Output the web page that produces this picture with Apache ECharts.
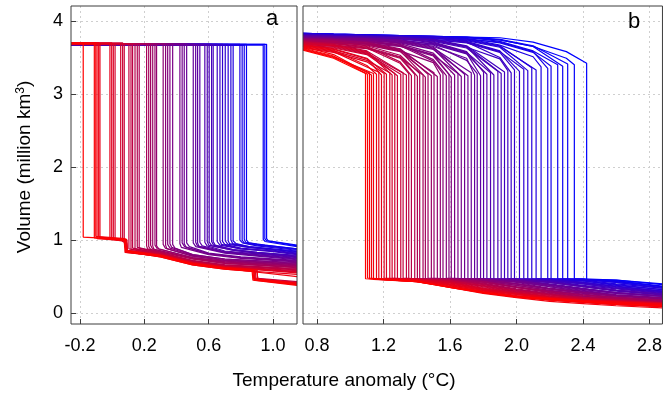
<!DOCTYPE html>
<html><head><meta charset="utf-8">
<script src="https://cdn.jsdelivr.net/npm/echarts@6/dist/echarts.min.js"></script>
<style>html,body{margin:0;padding:0;background:#fff}#c{width:665px;height:394px}</style>
</head><body><div id="c"></div>
<script>
// ---------------- data ----------------
const X_RANGE_A = [-0.256, 1.149];
const X_RANGE_B = [0.716, 2.878];
const Y_RANGE = [-0.15, 4.205];
const X_TICKS_A = [-0.2, 0.2, 0.6, 1.0];
const X_TICKS_B = [0.8, 1.2, 1.6, 2.0, 2.4, 2.8];
const Y_TICKS = [0, 1, 2, 3, 4];

// panel a: tipping temperature of each run (red -> blue)
const THR_A = [-0.18,-0.111,-0.102,-0.094,-0.084,-0.076,-0.014,-0.003,0.007,0.018,
0.053,0.065,0.075,0.104,0.117,0.127,0.142,0.156,0.168,0.214,
0.227,0.239,0.252,0.266,0.276,0.317,0.332,0.345,0.359,0.376,
0.421,0.435,0.448,0.463,0.504,0.519,0.531,0.545,0.576,0.591,
0.603,0.618,0.628,0.653,0.670,0.686,0.703,0.721,0.738,0.752,
0.794,0.808,0.821,0.835,0.939,0.949,0.960];
// panel a: volume before collapse
const UP_A = [3.70,3.69,3.70,3.69,3.70,3.69,3.69,3.70,3.69,3.69,
3.69,3.70,3.69,3.69,3.68,3.69,3.69,3.68,3.69,3.69,
3.68,3.69,3.68,3.69,3.68,3.68,3.69,3.68,3.68,3.69,
3.68,3.68,3.68,3.69,3.68,3.68,3.67,3.68,3.68,3.67,
3.68,3.68,3.67,3.68,3.67,3.68,3.67,3.68,3.67,3.67,
3.68,3.67,3.67,3.68,3.67,3.68,3.68];
// panel a: volume after collapse: first value at the tipping point, then (temperature, volume) pairs
const LOW_A = [
[1.04, 0.08,1.01, 0.085,0.85, 0.3,0.78, 0.5,0.67, 0.7,0.61, 0.875,0.58, 0.88,0.46, 1.149,0.39],
[1.03, 0.08,1.00, 0.085,0.84, 0.3,0.77, 0.5,0.66, 0.7,0.60, 0.87,0.57, 0.875,0.45, 1.149,0.38],
[1.05, 0.08,1.02, 0.085,0.86, 0.3,0.79, 0.5,0.68, 0.7,0.62, 0.885,0.59, 0.89,0.47, 1.149,0.41],
[1.02, 0.075,0.99, 0.08,0.83, 0.3,0.78, 0.5,0.67, 0.7,0.61, 1.149,0.50],
[1.04, 0.09,1.01, 0.095,0.85, 0.3,0.79, 0.5,0.68, 0.7,0.62, 0.9,0.59, 0.905,0.46, 1.149,0.40],
[1.03, 0.08,1.00, 0.085,0.84, 0.3,0.77, 0.5,0.66, 0.7,0.60, 1.149,0.53],
[1.02, 0.085,0.99, 0.09,0.83, 0.3,0.78, 0.5,0.67, 0.7,0.61, 0.88,0.58, 0.885,0.45, 1.149,0.39],
[1.01, 0.08,0.98, 0.085,0.85, 0.3,0.79, 0.5,0.69, 0.7,0.63, 1.149,0.55],
[1.02, 0.09,1.00, 0.095,0.84, 0.3,0.78, 0.5,0.67, 0.7,0.61, 0.89,0.58, 0.895,0.46, 1.149,0.41],
[1.01, 0.08,0.99, 0.085,0.86, 0.3,0.80, 0.5,0.69, 0.7,0.63, 1.149,0.56],
[1.00, 0.08,0.98, 0.085,0.85, 0.3,0.79, 0.5,0.68, 0.7,0.62, 0.9,0.59, 0.905,0.47, 1.149,0.42],
[0.98, 0.09,0.96, 0.095,0.86, 0.3,0.80, 0.5,0.69, 0.7,0.63, 1.149,0.57],
[0.97, 0.085,0.86, 0.3,0.80, 0.5,0.70, 0.7,0.64, 1.149,0.56],
[0.88, 0.3,0.81, 0.5,0.70, 0.7,0.64, 1.149,0.58],
[0.87, 0.3,0.80, 0.5,0.69, 0.7,0.63, 0.88,0.60, 0.885,0.48, 1.149,0.43],
[0.89, 0.3,0.82, 0.5,0.71, 0.7,0.65, 1.149,0.59],
[0.88, 0.3,0.81, 0.5,0.71, 0.7,0.65, 1.149,0.60],
[0.90, 0.3,0.83, 0.5,0.72, 0.7,0.66, 1.149,0.61],
[0.89, 0.3,0.82, 0.5,0.72, 0.7,0.66, 1.149,0.60],
[0.92, 0.22,0.88, 0.5,0.74, 0.7,0.68, 1.149,0.62],
[0.91, 0.24,0.87, 0.5,0.74, 0.7,0.68, 1.149,0.63],
[0.93, 0.25,0.88, 0.5,0.75, 0.7,0.69, 1.149,0.63],
[0.92, 0.26,0.87, 0.5,0.75, 0.7,0.70, 1.149,0.64],
[0.93, 0.28,0.88, 0.5,0.76, 0.7,0.70, 1.149,0.65],
[0.92, 0.29,0.88, 0.5,0.76, 0.7,0.71, 1.149,0.65],
[0.94, 0.33,0.89, 0.5,0.78, 0.7,0.72, 1.149,0.66],
[0.93, 0.34,0.88, 0.5,0.78, 0.7,0.72, 1.149,0.67],
[0.94, 0.36,0.89, 0.5,0.79, 0.7,0.73, 1.149,0.67],
[0.95, 0.37,0.90, 0.5,0.80, 0.7,0.74, 1.149,0.68],
[0.94, 0.39,0.89, 0.5,0.80, 0.7,0.74, 1.149,0.69],
[0.95, 0.43,0.90, 0.6,0.80, 0.8,0.75, 1.149,0.70],
[0.96, 0.45,0.91, 0.6,0.81, 0.8,0.76, 1.149,0.71],
[0.95, 0.46,0.90, 0.6,0.81, 0.8,0.76, 1.149,0.71],
[0.96, 0.48,0.91, 0.6,0.82, 0.8,0.77, 1.149,0.72],
[0.96, 0.52,0.91, 0.7,0.82, 0.9,0.78, 1.149,0.73],
[0.97, 0.53,0.92, 0.7,0.83, 0.9,0.79, 1.149,0.74],
[0.96, 0.54,0.91, 0.7,0.83, 0.9,0.79, 1.149,0.74],
[0.97, 0.56,0.92, 0.7,0.84, 0.9,0.80, 1.149,0.75],
[0.97, 0.59,0.92, 0.7,0.85, 0.9,0.81, 1.149,0.76],
[0.98, 0.60,0.93, 0.75,0.86, 0.9,0.82, 1.149,0.77],
[0.97, 0.62,0.92, 0.75,0.86, 0.9,0.82, 1.149,0.77],
[0.98, 0.63,0.93, 0.75,0.87, 0.9,0.83, 1.149,0.78],
[0.98, 0.64,0.93, 0.75,0.87, 0.9,0.83, 1.149,0.79],
[0.98, 0.67,0.93, 0.8,0.88, 1.0,0.84, 1.149,0.80],
[0.99, 0.68,0.94, 0.8,0.88, 1.0,0.85, 1.149,0.81],
[0.98, 0.70,0.94, 0.8,0.89, 1.0,0.85, 1.149,0.81],
[0.99, 0.72,0.94, 0.85,0.90, 1.0,0.86, 1.149,0.82],
[0.99, 0.73,0.95, 0.85,0.90, 1.0,0.87, 1.149,0.83],
[1.00, 0.75,0.95, 0.85,0.91, 1.0,0.87, 1.149,0.84],
[0.99, 0.77,0.95, 0.85,0.91, 1.0,0.88, 1.149,0.85],
[1.00, 0.81,0.96, 0.9,0.92, 1.149,0.86],
[1.00, 0.82,0.96, 0.9,0.93, 1.149,0.87],
[1.01, 0.83,0.97, 0.9,0.94, 1.149,0.88],
[1.00, 0.85,0.96, 0.95,0.93, 1.149,0.88],
[1.01, 0.95,0.98, 1.149,0.91],
[1.02, 0.96,0.99, 1.149,0.92],
[1.02, 0.97,0.99, 1.149,0.93]
];

// panel b
const THR_B = [1.092,1.104,1.116,1.128,1.140,1.158,1.172,1.188,1.204,1.218,
1.238,1.252,1.268,1.284,1.304,1.318,1.338,1.352,1.368,1.388,
1.404,1.418,1.438,1.452,1.468,1.488,1.504,1.524,1.542,1.558,
1.578,1.594,1.608,1.628,1.648,1.668,1.688,1.708,1.728,1.748,
1.764,1.784,1.802,1.822,1.844,1.864,1.888,1.908,1.928,1.948,
1.968,1.988,2.018,2.044,2.068,2.092,2.118,2.148,2.188,2.208,
2.248,2.278,2.308,2.348,2.422];
// volume before collapse, read at these temperatures (only those below the tipping point)
const UP_KNOTS_B = [0.716, 0.9, 1.1, 1.3, 1.5, 1.7, 1.9, 2.1, 2.3];
const UP_B = [
[3.60,3.49],[3.63,3.52],[3.61,3.50],[3.65,3.54],[3.62,3.51],
[3.66,3.60,3.39],[3.64,3.58,3.37],[3.67,3.61,3.48],[3.63,3.57,3.44],[3.68,3.62,3.49],
[3.65,3.59,3.46],[3.69,3.66,3.57],[3.66,3.63,3.54],[3.70,3.67,3.58],[3.67,3.64,3.55],
[3.71,3.68,3.59],[3.68,3.65,3.56],[3.70,3.67,3.63,3.42],[3.72,3.69,3.65,3.44],[3.69,3.66,3.62,3.49],
[3.71,3.70,3.64,3.51],[3.73,3.72,3.66,3.53],[3.70,3.69,3.63,3.50],[3.72,3.71,3.68,3.59],[3.74,3.73,3.70,3.61],
[3.71,3.70,3.67,3.58],[3.73,3.72,3.69,3.60],[3.75,3.74,3.71,3.62],[3.72,3.71,3.69,3.59,3.43],[3.74,3.73,3.71,3.66,3.45],
[3.76,3.75,3.72,3.68,3.47],[3.73,3.72,3.69,3.65,3.52],[3.75,3.74,3.73,3.67,3.54],[3.77,3.76,3.75,3.69,3.56],[3.74,3.73,3.72,3.66,3.53],
[3.76,3.75,3.74,3.71,3.62],[3.78,3.77,3.76,3.73,3.64],[3.75,3.74,3.73,3.70,3.61],[3.77,3.76,3.75,3.72,3.63],[3.79,3.78,3.77,3.74,3.65,3.49],
[3.76,3.75,3.74,3.71,3.67,3.46],[3.78,3.77,3.76,3.73,3.69,3.56],[3.80,3.79,3.78,3.77,3.71,3.58],[3.77,3.76,3.75,3.74,3.68,3.55],[3.79,3.78,3.77,3.76,3.70,3.57],
[3.80,3.79,3.78,3.77,3.74,3.65],[3.78,3.77,3.76,3.75,3.72,3.63],[3.80,3.79,3.78,3.77,3.74,3.65],[3.81,3.80,3.79,3.78,3.75,3.66],[3.79,3.78,3.77,3.76,3.73,3.64,3.48],
[3.81,3.80,3.79,3.78,3.75,3.71,3.50],[3.80,3.79,3.78,3.77,3.74,3.70,3.57],[3.82,3.81,3.80,3.79,3.78,3.72,3.59],[3.81,3.80,3.79,3.78,3.77,3.71,3.58],[3.80,3.79,3.78,3.77,3.76,3.73,3.64],
[3.82,3.81,3.80,3.79,3.78,3.75,3.66],[3.81,3.80,3.79,3.78,3.77,3.74,3.65],[3.83,3.82,3.81,3.80,3.79,3.76,3.67,3.51],[3.82,3.81,3.80,3.79,3.78,3.75,3.71,3.58],[3.81,3.80,3.79,3.78,3.77,3.76,3.70,3.57],
[3.83,3.82,3.81,3.80,3.79,3.78,3.72,3.59],[3.82,3.81,3.80,3.79,3.78,3.77,3.74,3.65],[3.83,3.82,3.81,3.80,3.79,3.78,3.75,3.66],[3.82,3.81,3.80,3.79,3.78,3.77,3.74,3.65,3.49],[3.83,3.82,3.81,3.80,3.79,3.78,3.77,3.71,3.58]
];
// volume at the tipping point, just before collapse
const TOP_B = [3.28,3.27,3.29,3.26,3.28,3.27,3.30,3.26,3.28,3.27,
3.29,3.26,3.28,3.25,3.27,3.29,3.26,3.28,3.25,3.27,
3.24,3.28,3.26,3.23,3.27,3.25,3.29,3.24,3.26,3.28,
3.25,3.27,3.23,3.26,3.28,3.24,3.27,3.25,3.29,3.26,
3.28,3.25,3.30,3.27,3.29,3.26,3.31,3.28,3.30,3.32,
3.29,3.33,3.31,3.34,3.32,3.36,3.33,3.37,3.35,3.38,
3.40,3.38,3.41,3.40,3.42];
// volume after collapse: value at the tipping point, then values at the last knots of LOW_KNOTS_B
const LOW_KNOTS_B = [1.4, 1.6, 1.8, 2.0, 2.2, 2.4, 2.6, 2.878];
const LOW_B = [
[0.47,0.43,0.35,0.28,0.22,0.19,0.16,0.13,0.10],
[0.48,0.44,0.35,0.28,0.22,0.18,0.15,0.12,0.09],
[0.47,0.43,0.36,0.29,0.23,0.20,0.17,0.15,0.12],
[0.47,0.43,0.35,0.27,0.21,0.16,0.13,0.10,0.07],
[0.46,0.43,0.36,0.28,0.22,0.18,0.15,0.13,0.10],
[0.47,0.44,0.37,0.30,0.24,0.19,0.16,0.14,0.11],
[0.47,0.44,0.38,0.29,0.23,0.18,0.15,0.12,0.09],
[0.47,0.45,0.39,0.31,0.26,0.21,0.18,0.16,0.13],
[0.48,0.46,0.39,0.31,0.24,0.18,0.15,0.12,0.09],
[0.47,0.45,0.40,0.32,0.26,0.20,0.17,0.14,0.11],
[0.47,0.45,0.41,0.33,0.26,0.21,0.18,0.15,0.12],
[0.48,0.46,0.42,0.33,0.27,0.21,0.17,0.14,0.11],
[0.47,0.46,0.42,0.34,0.28,0.23,0.19,0.17,0.14],
[0.47,0.46,0.42,0.33,0.26,0.19,0.15,0.12,0.09],
[0.47,0.46,0.43,0.35,0.28,0.22,0.19,0.16,0.12],
[0.48,0.47,0.44,0.37,0.30,0.24,0.20,0.17,0.13],
[0.47,0.46,0.44,0.36,0.28,0.22,0.18,0.14,0.11],
[0.47,0.47,0.44,0.38,0.30,0.25,0.21,0.18,0.14],
[0.46,0.46,0.43,0.37,0.29,0.23,0.19,0.16,0.12],
[0.47,0.45,0.39,0.31,0.25,0.20,0.17,0.13],
[0.47,0.45,0.40,0.32,0.26,0.21,0.19,0.15],
[0.47,0.45,0.40,0.32,0.26,0.20,0.17,0.13],
[0.47,0.46,0.41,0.33,0.27,0.22,0.19,0.15],
[0.47,0.46,0.42,0.35,0.29,0.24,0.21,0.17],
[0.48,0.47,0.43,0.35,0.28,0.22,0.19,0.15],
[0.47,0.46,0.43,0.35,0.29,0.23,0.20,0.16],
[0.47,0.46,0.43,0.36,0.30,0.25,0.21,0.18],
[0.46,0.45,0.43,0.36,0.29,0.23,0.19,0.15],
[0.47,0.47,0.44,0.38,0.31,0.26,0.22,0.18],
[0.47,0.47,0.44,0.38,0.31,0.25,0.21,0.17],
[0.48,0.46,0.40,0.33,0.28,0.23,0.20],
[0.47,0.45,0.40,0.33,0.28,0.24,0.20],
[0.47,0.45,0.40,0.33,0.27,0.23,0.19],
[0.46,0.45,0.40,0.33,0.28,0.24,0.20],
[0.47,0.46,0.42,0.34,0.29,0.24,0.20],
[0.47,0.46,0.43,0.36,0.30,0.25,0.21],
[0.47,0.46,0.43,0.36,0.29,0.24,0.20],
[0.47,0.46,0.44,0.38,0.32,0.27,0.23],
[0.46,0.45,0.43,0.37,0.31,0.25,0.21],
[0.47,0.47,0.45,0.39,0.33,0.28,0.24],
[0.47,0.47,0.45,0.39,0.33,0.27,0.23],
[0.46,0.44,0.39,0.33,0.28,0.23],
[0.47,0.45,0.40,0.34,0.28,0.23],
[0.47,0.46,0.42,0.36,0.31,0.26],
[0.47,0.46,0.42,0.36,0.30,0.25],
[0.46,0.45,0.42,0.36,0.31,0.26],
[0.47,0.46,0.43,0.37,0.31,0.26],
[0.47,0.46,0.44,0.38,0.33,0.27],
[0.46,0.45,0.43,0.37,0.31,0.25],
[0.47,0.47,0.45,0.40,0.34,0.28],
[0.47,0.47,0.45,0.41,0.35,0.29],
[0.46,0.44,0.40,0.34,0.28],
[0.47,0.46,0.42,0.36,0.30],
[0.47,0.46,0.42,0.36,0.30],
[0.46,0.45,0.42,0.37,0.30],
[0.47,0.46,0.44,0.38,0.32],
[0.47,0.47,0.45,0.40,0.34],
[0.46,0.46,0.44,0.39,0.32],
[0.47,0.46,0.42,0.35],
[0.47,0.46,0.42,0.34],
[0.47,0.46,0.43,0.36],
[0.47,0.46,0.44,0.37],
[0.46,0.45,0.44,0.36],
[0.47,0.47,0.45,0.39],
[0.46,0.45,0.40]
];

// ---------------- chart ----------------
const FONT = '"Liberation Sans", Arial, Helvetica, sans-serif';
const FRAME = '#3c3c3c';
function ramp(i, n) {
  const t = n > 1 ? i / (n - 1) : 0;
  return 'rgb(' + Math.round(255 * (1 - t)) + ',0,' + Math.round(255 * t) + ')';
}

const series = [];
// panel a (blue first so red ends on top)
for (let i = THR_A.length - 1; i >= 0; i--) {
  const thr = THR_A[i];
  const pts = [[X_RANGE_A[0], UP_A[i]], [thr, UP_A[i]], [thr, LOW_A[i][0]]];
  for (let j = 1; j + 1 < LOW_A[i].length; j += 2) pts.push([LOW_A[i][j], LOW_A[i][j + 1]]);
  series.push({type: 'line', xAxisIndex: 0, yAxisIndex: 0, data: pts, showSymbol: false, silent: true,
    animation: false, lineStyle: {width: 1.2, color: ramp(i, THR_A.length)}});
}
// panel b
for (let i = THR_B.length - 1; i >= 0; i--) {
  const thr = THR_B[i];
  const pts = [];
  const uk = UP_KNOTS_B.filter(k => k < thr - 0.04);
  const uv = UP_B[i];
  for (let j = 0; j < Math.min(uk.length, uv.length); j++) pts.push([uk[j], uv[j]]);
  pts.push([thr, TOP_B[i]]);
  pts.push([thr, LOW_B[i][0]]);
  const lk = LOW_KNOTS_B.filter(k => k > thr + 0.03);
  const lv = LOW_B[i].slice(1);
  const off = lk.length - lv.length;
  for (let j = 0; j < lv.length; j++) if (j + off >= 0) pts.push([lk[j + off], lv[j]]);
  series.push({type: 'line', xAxisIndex: 1, yAxisIndex: 1, data: pts, showSymbol: false, silent: true,
    animation: false, lineStyle: {width: 1.2, color: ramp(i, THR_B.length)}});
}

const splitLine = {show: true, lineStyle: {color: '#cfcfcf', width: 1, type: [2, 3]}};
function xAxis(idx, range, ticks, splitNumber) {
  return {
    type: 'value', gridIndex: idx, min: range[0], max: range[1], splitNumber: splitNumber,
    minInterval: 0.2, maxInterval: 0.2, position: 'bottom',
    axisLine: {show: false, onZero: false},
    axisTick: {show: true, inside: true, length: 5, customValues: ticks, lineStyle: {color: FRAME}},
    axisLabel: {show: true, customValues: ticks, margin: 13, fontSize: 18, fontFamily: FONT, color: '#000',
      formatter: v => v.toFixed(1)},
    splitLine: splitLine
  };
}
function yAxis(idx, showLabels) {
  return {
    type: 'value', gridIndex: idx, min: Y_RANGE[0], max: Y_RANGE[1], splitNumber: 9,
    minInterval: 0.5, maxInterval: 0.5, position: 'left',
    axisLine: {show: false, onZero: false},
    axisTick: {show: showLabels, inside: true, length: 5, customValues: Y_TICKS, lineStyle: {color: FRAME}},
    axisLabel: {show: showLabels, customValues: Y_TICKS, margin: 8, fontSize: 18, fontFamily: FONT, color: '#000',
      formatter: v => String(Math.round(v))},
    splitLine: splitLine
  };
}

const chart = echarts.init(document.getElementById('c'), null, {renderer: 'canvas'});
chart.setOption({
  animation: false,
  backgroundColor: '#fff',
  grid: [
    {left: 71, top: 6, width: 226, height: 318, show: true, borderColor: FRAME, borderWidth: 1, backgroundColor: 'transparent', z: 10},
    {left: 303, top: 6, width: 361, height: 318, show: true, borderColor: FRAME, borderWidth: 1, backgroundColor: 'transparent', z: 10}
  ],
  xAxis: [xAxis(0, X_RANGE_A, X_TICKS_A, 7), xAxis(1, X_RANGE_B, X_TICKS_B, 11)],
  yAxis: [yAxis(0, true), yAxis(1, false)],
  series: series,
  graphic: [
    {type: 'text', x: 344, y: 381, z: 100, style: {text: 'Temperature anomaly (°C)', fontSize: 19, fontFamily: FONT,
      fill: '#000', align: 'center', verticalAlign: 'middle', textAlign: 'center', textVerticalAlign: 'middle'}},
    {type: 'text', x: 25, y: 167, rotation: Math.PI / 2, z: 100, style: {
      text: '{a|Volume (million km}{s|3}{a|)}', align: 'center', verticalAlign: 'middle',
      textAlign: 'center', textVerticalAlign: 'middle',
      rich: {a: {fontSize: 19, fontFamily: FONT, fill: '#000', color: '#000'},
             s: {fontSize: 12, fontFamily: FONT, fill: '#000', color: '#000', verticalAlign: 'top', padding: [0, 0, 9, 0]}}}},
    {type: 'text', x: 272, y: 19, z: 100, style: {text: 'a', fontSize: 22, fontFamily: FONT, fill: '#000',
      align: 'center', verticalAlign: 'middle', textAlign: 'center', textVerticalAlign: 'middle'}},
    {type: 'text', x: 634, y: 22, z: 100, style: {text: 'b', fontSize: 22, fontFamily: FONT, fill: '#000',
      align: 'center', verticalAlign: 'middle', textAlign: 'center', textVerticalAlign: 'middle'}}
  ]
});
</script>
</body></html>
